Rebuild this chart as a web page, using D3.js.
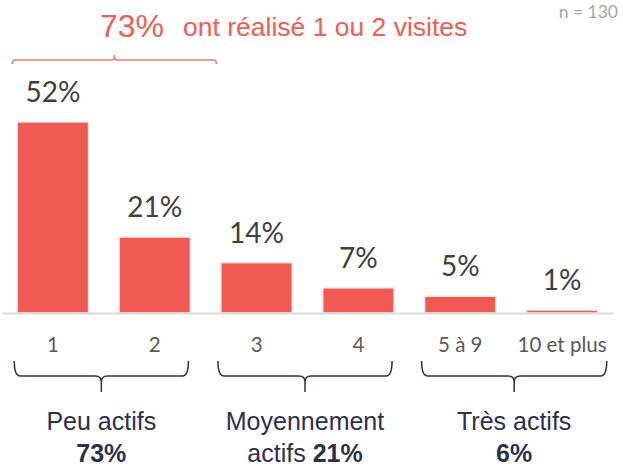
<!DOCTYPE html>
<html>
<head>
<meta charset="utf-8">
<script src="https://cdn.jsdelivr.net/npm/d3@7"></script>
<style>
  body { margin: 0; background: #fff; }
  svg { display: block; }
</style>
</head>
<body>
<div id="chart"></div>
<script>
// data
const categories = ["1", "2", "3", "4", "5 à 9", "10 et plus"];
const shares = [52.3, 20.8, 13.8, 6.9, 4.6, 0.8];
const groupNames = [["Peu actifs"], ["Moyennement", "actifs "], ["Très actifs"]];
const groupShares = ["73%", "21%", "6%"];
const groupMembers = [["1", "2"], ["3", "4"], ["5 à 9", "10 et plus"]];
const headlineValue = "73%";
const headlineText = "ont réalisé 1 ou 2 visites";
const sampleNote = "n = 130";

const W = 623, H = 467;
const baseY = 313;
const barColor = "#F15A52";
const navy = "#2f2f4d";

const svg = d3.select("#chart").append("svg")
    .attr("width", W)
    .attr("height", H)

const x = d3.scaleBand()
    .domain(categories)
    .range([2, 613])
    .paddingInner(0.3)
    .paddingOuter(0.15)

const y = d3.scaleLinear()
    .domain([0, d3.max(shares)])
    .range([baseY, 122])

const rows = categories.map((c, i) => ({cat: c, value: shares[i]}))

// bars
svg.selectAll("rect.bar")
    .data(rows)
    .enter()
    .append("rect")
    .attr("class", "bar")
    .attr("x", d => x(d.cat))
    .attr("y", d => y(d.value))
    .attr("width", x.bandwidth())
    .attr("height", d => baseY - y(d.value))
    .attr("fill", barColor)
    .attr("stroke", "#ececec")
    .attr("stroke-width", 1.5)

// baseline, axis without ticks
const xAxis = d3.axisBottom(x).tickSize(0).tickPadding(0)
const axisG = svg.append("g")
    .attr("transform", `translate(0, ${baseY})`)
    .call(xAxis)
axisG.select(".domain").attr("stroke", "#d9d9d9").attr("stroke-width", 2)
axisG.selectAll(".tick text").remove()

// category labels
svg.selectAll("text.cat")
    .data(rows)
    .enter()
    .append("text")
    .attr("class", "cat")
    .attr("x", d => x(d.cat) + x.bandwidth() / 2)
    .attr("y", 352)
    .attr("text-anchor", "middle")
    .attr("font-family", "Lato, sans-serif")
    .attr("font-size", 20.5)
    .attr("fill", "#595959")
    .text(d => d.cat)

// value labels
svg.selectAll("text.val")
    .data(rows)
    .enter()
    .append("text")
    .attr("class", "val")
    .attr("x", d => x(d.cat) + x.bandwidth() / 2)
    .attr("y", d => y(d.value) - 20)
    .attr("text-anchor", "middle")
    .attr("font-family", "Lato, sans-serif")
    .attr("font-size", 28)
    .attr("fill", "#404040")
    .text(d => Math.round(d.value) + "%")

// curly bracket path; the tip goes toward yTip
function brace(x0, x1, yTop, yMid, yTip, r) {
    const m = (x0 + x1) / 2
    const s = Math.sign(yTip - yMid)
    return `M${x0},${yTop} Q${x0},${yMid} ${x0 + r},${yMid} L${m - r},${yMid} Q${m},${yMid} ${m},${yMid + s * r} L${m},${yTip}`
        + ` M${m},${yMid + s * r} Q${m},${yMid} ${m + r},${yMid} L${x1 - r},${yMid} Q${x1},${yMid} ${x1},${yTop}`
}

// group brackets under the axis
groupMembers.forEach((g, i) => {
    const x0 = x(g[0]) - 3
    const x1 = x(g[g.length - 1]) + x.bandwidth() + (i == 2 ? 9 : -2)
    const mid = (x0 + x1) / 2
    svg.append("path")
        .attr("d", brace(x0, x1, 361, 376, 392, 6))
        .attr("fill", "none")
        .attr("stroke", navy)
        .attr("stroke-width", 1.5)

    const lines = groupNames[i]
    svg.append("text")
        .attr("x", mid)
        .attr("y", 430)
        .attr("text-anchor", "middle")
        .attr("font-family", "'Liberation Sans', Arial, sans-serif")
        .attr("font-size", 25)
        .attr("fill", navy)
        .text(lines[0])

    const t2 = svg.append("text")
        .attr("x", mid)
        .attr("y", 462)
        .attr("text-anchor", "middle")
        .attr("font-family", "'Liberation Sans', Arial, sans-serif")
        .attr("font-size", 25)
        .attr("fill", navy)
    if (lines.length > 1) t2.append("tspan").text(lines[1])
    t2.append("tspan").attr("font-weight", "bold").text(groupShares[i])
})

// red bracket over the first two bars
const rx0 = x(groupMembers[0][0]) - 5
const rx1 = x(groupMembers[0][1]) + x.bandwidth() + 26
svg.append("path")
    .attr("d", brace(rx0, rx1, 64, 60, 55, 3))
    .attr("fill", "none")
    .attr("stroke", "#F37A72")
    .attr("stroke-width", 1.5)

svg.append("text")
    .attr("x", 100)
    .attr("y", 37)
    .attr("font-family", "'Liberation Sans', Arial, sans-serif")
    .attr("font-size", 32)
    .attr("fill", "#F15C55")
    .text(headlineValue)

svg.append("text")
    .attr("x", 183)
    .attr("y", 36)
    .attr("font-family", "'Liberation Sans', Arial, sans-serif")
    .attr("font-size", 26.5)
    .attr("fill", "#F15C55")
    .text(headlineText)

svg.append("text")
    .attr("x", 618)
    .attr("y", 18)
    .attr("text-anchor", "end")
    .attr("font-family", "Lato, sans-serif")
    .attr("font-size", 17.5)
    .attr("fill", "#a6a6a6")
    .text(sampleNote)
</script>
</body>
</html>
